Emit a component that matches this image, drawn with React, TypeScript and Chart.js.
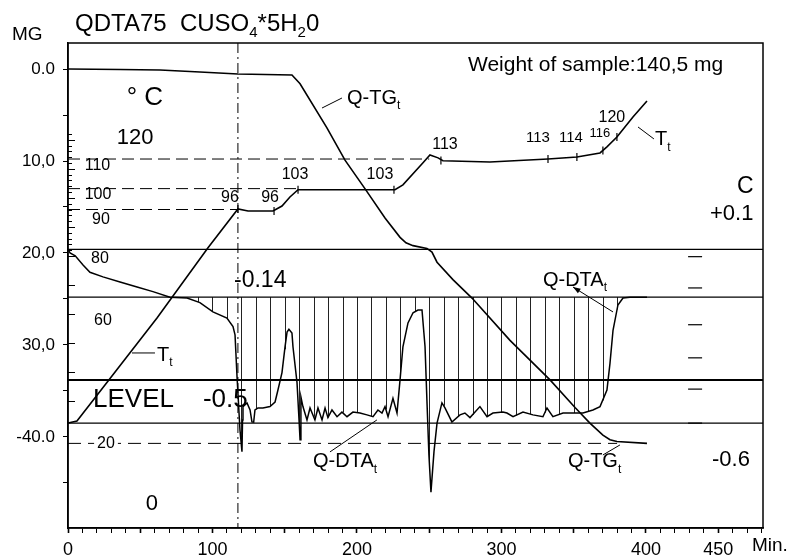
import React, { useEffect, useRef } from 'react';
import { Chart, registerables } from 'chart.js';

Chart.register(...registerables);

const FONT = '"Liberation Sans", Arial, Helvetica, sans-serif';

// ---------- axis ranges ----------
const X_MIN = 0;
const X_MAX = 481;
const Y_MIN = -2.83;
const Y_MAX = 49.9;
const T_MIN = -13.8;
const T_MAX = 153.4;

// ---------- tick labels ----------
const X_TICK_LABELS = [0, 100, 200, 300, 400, 450];
const Y_TICK_VALUES = [0, 5, 10, 15, 20, 25, 30, 35, 40, 45];
const Y_LABELED = [0, 10, 20, 30, 40];
const Y_TICK_LABELS = ['0.0', '10,0', '20,0', '30,0', '-40.0'];

// ---------- Q-TG (mass loss, mg) ----------
const TG_TIME = [0, 36, 63.7, 91.3, 117.6, 155, 160.6, 179.2, 191.7, 205.5, 219.4, 229.8, 233.9, 238.8, 248.4, 251.9, 255.4, 266.4, 279.6, 305.9, 333.6, 350.9, 361.2, 370.2, 375.1, 379.9, 400.7];
const TG_MASS = [0, 0.05, 0.1, 0.33, 0.54, 0.65, 1.6, 6.4, 9.9, 13.0, 16.2, 18.3, 18.9, 19.2, 19.5, 19.9, 21.0, 22.9, 24.9, 29.5, 33.8, 36.8, 38.5, 39.8, 40.3, 40.5, 40.7];

// ---------- T (temperature, °C) ----------
const T_TIME = [0, 6.2, 31.1, 61.6, 96.9, 117.6, 124.6, 141.9, 148.1, 153.6, 159.2, 226.3, 231.8, 245.7, 250.5, 256.1, 259.5, 292.0, 332.2, 352.2, 368.2, 373.0, 379.9, 391.0, 400.7];
const T_TEMP = [22.4, 23.1, 39.0, 58.6, 82.8, 96.2, 95.5, 95.5, 97.2, 100.3, 102.8, 102.8, 104.5, 112.1, 114.8, 113.8, 112.8, 112.4, 113.4, 114.1, 115.5, 117.6, 121.0, 127.9, 133.4];

// marked temperatures on the T curve
const T_MARK_TIME = [117.6, 142.6, 159.2, 225.6, 258.1, 332.2, 352.2, 370.2, 379.9];
const T_MARK_TEMP = [96.2, 95.5, 102.8, 102.8, 112.9, 113.4, 114.1, 116.3, 121.0];
const T_MARK_LABELS = ['96', '96', '103', '103', '113', '113', '114', '116', '120'];

// ---------- Q-DTA (plotted on the mg scale) ----------
const DTA_TIME = [0, 1.4, 5.0, 10.4, 15.2, 24.2, 36.0, 47.8, 58.8, 70.6, 82.4, 91.3, 100.3, 110.0, 114.2, 115.6, 117.0, 119.0, 120.4, 120.8, 121.1, 123.9, 126.0, 127.3, 128.5, 129.4, 131.5, 134.9, 139.8, 143.3, 145.3, 148.1, 150.2, 151.6, 152.9, 155.0, 155.7, 158.5, 159.9, 160.6, 161.2, 162.6, 165.4, 167.5, 170.9, 173.0, 175.8, 177.9, 179.9, 182.7, 186.2, 189.6, 193.1, 197.2, 202.1, 206.9, 211.1, 214.5, 217.3, 219.4, 221.5, 224.9, 227.7, 229.8, 231.8, 235.3, 238.8, 242.2, 245.0, 247.1, 248.4, 249.8, 251.2, 253.3, 255.4, 258.8, 260.9, 265.7, 271.3, 274.7, 278.2, 285.1, 290.0, 294.1, 301.0, 303.8, 308.0, 314.9, 321.8, 328.7, 331.5, 335.6, 342.6, 349.5, 356.4, 363.3, 368.2, 373.0, 375.1, 377.2, 380.6, 384.1, 388.9, 395.8, 400.7];
const DTA_SIGNAL = [19.6, 20.0, 20.3, 21.3, 22.1, 22.6, 23.15, 23.7, 24.2, 24.8, 24.9, 25.4, 26.4, 27.07, 28.0, 28.9, 33.5, 39.2, 41.6, 38.15, 36.7, 36.3, 37.07, 38.37, 38.4, 37.07, 36.85, 36.85, 36.7, 36.2, 34.9, 33.0, 30.2, 28.6, 28.3, 28.7, 30.2, 34.1, 38.15, 40.3, 35.65, 36.7, 38.15, 36.85, 38.15, 36.85, 38.15, 36.85, 37.9, 37.07, 37.8, 37.3, 37.8, 37.3, 37.4, 37.6, 37.8, 37.07, 37.4, 36.7, 37.8, 35.8, 37.4, 33.8, 30.2, 27.6, 26.5, 26.2, 26.2, 30.2, 36.0, 42.0, 46.0, 41.6, 38.5, 36.3, 36.85, 38.37, 37.6, 37.4, 37.9, 36.7, 37.8, 37.4, 37.3, 37.4, 37.8, 37.3, 37.6, 37.8, 36.85, 37.8, 37.4, 37.4, 37.4, 37.07, 36.7, 34.9, 32.0, 28.4, 25.65, 24.9, 24.8, 24.8, 24.8];
const DTA_BASE = 24.8;
const HATCH_TIMES = [90, 100, 110, 120, 130, 140, 150, 160, 170, 180, 190, 200, 210, 220, 230, 240, 250, 260, 270, 280, 290, 300, 310, 320, 330, 340, 350, 360, 370, 380];

// ---------- reference lines ----------
const REF_LEVELS = [19.6, 24.8, 33.8, 38.5];
const LEVEL_LINE = 33.8;
const TG_FINAL_LEVEL = 40.7;
const TG_FINAL_END = 380;
const PLATEAU_TEMPS = [96.0, 103.2, 113.4];
const PLATEAU_END_TIMES = [117.6, 159.2, 250.0];
const MARKER_TIME = 117.6;
const RIGHT_MARK_TIME = 434;
const RIGHT_MARKS = [20.4, 23.8, 27.8, 31.4, 34.8, 38.5];
const T_SIDE_TICKS = [30, 40, 50, 60, 70, 80, 82, 84, 86, 88, 90, 92, 94, 96, 98, 100, 102, 104, 106, 108, 110, 112, 114, 116, 118, 120, 122];

// ---------- annotation layout (style/position config) ----------
type Part = [string, boolean];
const TEXT_NOTES: { t: number; v: number; parts: Part[]; size: number; align?: string; bg?: boolean }[] = [
  { t: 276.8, v: -0.43, parts: [['Weight of sample:140,5 mg', false]], size: 21 },
  { t: 40.6, v: 3.1, parts: [['° C', false]], size: 26 },
  { t: 46.4, v: 7.5, parts: [['120', false]], size: 22, align: 'center' },
  { t: 20.4, v: 10.54, parts: [['110', false]], size: 16, align: 'center' },
  { t: 20.8, v: 13.7, parts: [['100', false]], size: 16, align: 'center' },
  { t: 22.8, v: 16.4, parts: [['90', false]], size: 16, align: 'center' },
  { t: 22.1, v: 20.65, parts: [['80', false]], size: 16, align: 'center' },
  { t: 24.2, v: 27.3, parts: [['60', false]], size: 16, align: 'center' },
  { t: 26.3, v: 40.76, parts: [['20', false]], size: 16, align: 'center', bg: true },
  { t: 58.1, v: 47.3, parts: [['0', false]], size: 22, align: 'center' },
  { t: 17.3, v: 36.0, parts: [['LEVEL', false]], size: 26 },
  { t: 93.4, v: 36.0, parts: [['-0.5', false]], size: 26 },
  { t: 114.9, v: 23.0, parts: [['-0.14', false]], size: 23 },
  { t: 463.0, v: 12.8, parts: [['C', false]], size: 23 },
  { t: 444.3, v: 15.8, parts: [['+0.1', false]], size: 22 },
  { t: 445.7, v: 42.5, parts: [['-0.6', false]], size: 22 },
  { t: 193.1, v: 3.15, parts: [['Q-TG', false], ['t', true]], size: 20 },
  { t: 346.0, v: 42.7, parts: [['Q-TG', false], ['t', true]], size: 20 },
  { t: 169.6, v: 42.7, parts: [['Q-DTA', false], ['t', true]], size: 20 },
  { t: 328.7, v: 23.0, parts: [['Q-DTA', false], ['t', true]], size: 20 },
  { t: 61.6, v: 31.1, parts: [['T', false], ['t', true]], size: 20 },
  { t: 406.2, v: 7.7, parts: [['T', false], ['t', true]], size: 20 },
];
const LEADERS: { a: [number, number]; b: [number, number]; arrow?: boolean }[] = [
  { a: [175.8, 4.24], b: [189.6, 3.15] },
  { a: [370.2, 41.96], b: [382.0, 40.87] },
  { a: [181.3, 41.63], b: [213.8, 38.15] },
  { a: [377.2, 26.41], b: [349.5, 23.7], arrow: true },
  { a: [44.3, 30.87], b: [60.2, 30.87] },
  { a: [394.5, 6.3], b: [405.5, 7.6] },
];
const MARK_LABEL_OFFSETS = [[-8, -11], [-4, -13], [-3, -15], [-14, -15], [4, -16], [-10, -21], [-6, -19], [-3, -17], [-5, -19]];
const MARK_LABEL_SIZES = [16, 16, 16, 16, 16, 15, 15, 13, 16];
const TITLE_PARTS: Part[] = [['QDTA75  CUSO', false], ['4', true], ['*5H', false], ['2', true], ['0', false]];

function drawRich(ctx: CanvasRenderingContext2D, x: number, y: number, parts: Part[], size: number, align = 'left', bg = false) {
  const subSize = Math.round(size * 0.62);
  const widths = parts.map(([s, sub]) => {
    ctx.font = `${sub ? subSize : size}px ${FONT}`;
    return ctx.measureText(s).width;
  });
  const total = widths.reduce((a, b) => a + b, 0);
  let cx = align === 'center' ? x - total / 2 : align === 'right' ? x - total : x;
  if (bg) {
    ctx.fillStyle = '#fff';
    ctx.fillRect(cx - 3, y - size * 0.45, total + 6, size * 0.9);
  }
  ctx.fillStyle = '#000';
  ctx.textAlign = 'left';
  ctx.textBaseline = 'middle';
  parts.forEach(([s, sub], i) => {
    ctx.font = `${sub ? subSize : size}px ${FONT}`;
    ctx.fillText(s, cx, sub ? y + size * 0.38 : y);
    cx += widths[i];
  });
}

const zip = (xs: number[], ys: number[]) => xs.map((x, i) => ({ x, y: ys[i] }));

const hatchPlugin = {
  id: 'dtaHatch',
  beforeDatasetsDraw(chart: any) {
    const idx = chart.data.datasets.findIndex((d: any) => d.label === 'Q-DTA');
    const pts = chart.getDatasetMeta(idx).data;
    const xs = chart.scales.x;
    const ys = chart.scales.y;
    const ca = chart.chartArea;
    const yb = ys.getPixelForValue(DTA_BASE);
    const ctx = chart.ctx as CanvasRenderingContext2D;
    ctx.save();
    ctx.beginPath();
    ctx.rect(ca.left, ca.top, ca.right - ca.left, ca.bottom - ca.top);
    ctx.clip();
    ctx.strokeStyle = '#222';
    ctx.lineWidth = 1;
    ctx.beginPath();
    HATCH_TIMES.forEach((t) => {
      const px = xs.getPixelForValue(t);
      for (let i = 0; i < pts.length - 1; i++) {
        const p0 = pts[i], p1 = pts[i + 1];
        if (p0.x <= px && p1.x >= px) {
          const f = p1.x === p0.x ? 0 : (px - p0.x) / (p1.x - p0.x);
          const py = p0.y + f * (p1.y - p0.y);
          ctx.moveTo(Math.round(px) + 0.5, yb);
          ctx.lineTo(Math.round(px) + 0.5, py);
          break;
        }
      }
    });
    ctx.stroke();
    ctx.restore();
  },
};

const notesPlugin = {
  id: 'notes',
  afterDraw(chart: any) {
    const ctx = chart.ctx as CanvasRenderingContext2D;
    const ca = chart.chartArea;
    const xs = chart.scales.x;
    const ys = chart.scales.y;
    const yT = chart.scales.yT;
    ctx.save();
    // frame
    ctx.strokeStyle = '#000';
    ctx.lineWidth = 1.5;
    ctx.strokeRect(ca.left, ca.top, ca.right - ca.left, ca.bottom - ca.top);
    // temperature side ticks (inside left edge)
    ctx.lineWidth = 1;
    ctx.beginPath();
    T_SIDE_TICKS.forEach((T) => {
      const py = Math.round(yT.getPixelForValue(T)) + 0.5;
      const len = T % 10 === 0 ? 7 : 4;
      ctx.moveTo(ca.left, py);
      ctx.lineTo(ca.left + len, py);
    });
    ctx.stroke();
    // leader lines
    ctx.lineWidth = 1;
    LEADERS.forEach((l) => {
      const ax = xs.getPixelForValue(l.a[0]), ay = ys.getPixelForValue(l.a[1]);
      const bx = xs.getPixelForValue(l.b[0]), by = ys.getPixelForValue(l.b[1]);
      ctx.beginPath();
      ctx.moveTo(ax, ay);
      ctx.lineTo(bx, by);
      ctx.stroke();
      if (l.arrow) {
        const ang = Math.atan2(by - ay, bx - ax);
        ctx.beginPath();
        ctx.moveTo(bx, by);
        ctx.lineTo(bx - 8 * Math.cos(ang - 0.35), by - 8 * Math.sin(ang - 0.35));
        ctx.lineTo(bx - 8 * Math.cos(ang + 0.35), by - 8 * Math.sin(ang + 0.35));
        ctx.closePath();
        ctx.fillStyle = '#000';
        ctx.fill();
      }
    });
    // text notes
    TEXT_NOTES.forEach((n) => {
      drawRich(ctx, xs.getPixelForValue(n.t), ys.getPixelForValue(n.v), n.parts, n.size, n.align || 'left', !!n.bg);
    });
    // temperature mark labels
    T_MARK_LABELS.forEach((s, i) => {
      const x = xs.getPixelForValue(T_MARK_TIME[i]) + MARK_LABEL_OFFSETS[i][0];
      const y = yT.getPixelForValue(T_MARK_TEMP[i]) + MARK_LABEL_OFFSETS[i][1];
      drawRich(ctx, x, y, [[s, false]], MARK_LABEL_SIZES[i], 'center');
    });
    // outer texts
    drawRich(ctx, ca.left + 7, ca.top - 19, TITLE_PARTS, 24, 'left');
    drawRich(ctx, ca.left - 56, ca.top - 8, [['MG', false]], 19, 'left');
    drawRich(ctx, ca.right - 11, ca.bottom + 18, [['Min.', false]], 19, 'left');
    ctx.restore();
  },
};

const lineDs = (label: string, data: any[], axis: string, extra: any = {}) => ({
  label,
  data,
  yAxisID: axis,
  borderColor: '#000',
  backgroundColor: '#000',
  borderWidth: 1.6,
  pointRadius: 0,
  tension: 0,
  fill: false,
  ...extra,
});

export default function App() {
  const ref = useRef<HTMLCanvasElement>(null);

  useEffect(() => {
    const canvas = ref.current;
    if (!canvas) return;

    const datasets: any[] = [
      lineDs('Q-TG', zip(TG_TIME, TG_MASS), 'y'),
      lineDs('Q-DTA', zip(DTA_TIME, DTA_SIGNAL), 'y', { borderWidth: 1.5 }),
      lineDs('T', zip(T_TIME, T_TEMP), 'yT'),
      lineDs('T marks', zip(T_MARK_TIME, T_MARK_TEMP), 'yT', {
        showLine: false, pointStyle: 'line', pointRotation: 90, pointRadius: 4, pointBorderWidth: 1.2, pointBorderColor: '#000',
      }),
      ...REF_LEVELS.map((lv) =>
        lineDs('ref ' + lv, [{ x: X_MIN, y: lv }, { x: X_MAX, y: lv }], 'y', { borderWidth: lv === LEVEL_LINE ? 2 : 1.3 })
      ),
      lineDs('TG final', [{ x: X_MIN, y: TG_FINAL_LEVEL }, { x: TG_FINAL_END, y: TG_FINAL_LEVEL }], 'y', { borderWidth: 1, borderDash: [13, 7] }),
      ...PLATEAU_TEMPS.map((T, i) =>
        lineDs('plateau ' + T, [{ x: X_MIN, y: T }, { x: PLATEAU_END_TIMES[i], y: T }], 'yT', { borderWidth: 1, borderDash: [12, 6] })
      ),
      lineDs('marker', [{ x: MARKER_TIME, y: Y_MIN }, { x: MARKER_TIME, y: Y_MAX }], 'y', { borderWidth: 1, borderDash: [10, 4, 2, 4] }),
      lineDs('right marks', RIGHT_MARKS.map((v) => ({ x: RIGHT_MARK_TIME, y: v })), 'y', {
        showLine: false, pointStyle: 'line', pointRadius: 7, pointBorderWidth: 1.2, pointBorderColor: '#000',
      }),
    ];

    const chart = new Chart(canvas, {
      type: 'line',
      data: { datasets },
      options: {
        responsive: false,
        animation: false,
        devicePixelRatio: 1,
        events: [],
        layout: { padding: { top: 43, right: 27, left: 0, bottom: 0 } },
        plugins: { legend: { display: false }, tooltip: { enabled: false }, title: { display: false } },
        scales: {
          x: {
            type: 'linear',
            min: X_MIN,
            max: X_MAX,
            afterFit: (s: any) => { s.height = 32; },
            afterBuildTicks: (s: any) => {
              const t: any[] = [];
              for (let v = 0; v <= 480; v += 10) t.push({ value: v });
              s.ticks = t;
            },
            ticks: {
              autoSkip: false,
              maxRotation: 0,
              minRotation: 0,
              padding: 6,
              color: '#000',
              font: { family: FONT, size: 18 },
              callback: (v: any) => (X_TICK_LABELS.includes(Number(v)) ? String(v) : ''),
            },
            grid: {
              drawOnChartArea: false,
              drawTicks: true,
              tickLength: 5,
              color: '#000',
              tickWidth: (c: any) => (c.tick && c.tick.value % 50 === 0 ? 1.6 : 1),
            },
            border: { display: true, color: '#000', width: 1.5 },
          },
          y: {
            type: 'linear',
            position: 'left',
            reverse: true,
            min: Y_MIN,
            max: Y_MAX,
            afterFit: (s: any) => { s.width = 68; },
            afterBuildTicks: (s: any) => { s.ticks = Y_TICK_VALUES.map((value) => ({ value })); },
            ticks: {
              padding: 8,
              color: '#000',
              font: { family: FONT, size: 17 },
              callback: (v: any) => {
                const i = Y_LABELED.indexOf(Number(v));
                return i >= 0 ? Y_TICK_LABELS[i] : '';
              },
            },
            grid: { drawOnChartArea: false, drawTicks: true, tickLength: 5, color: '#000' },
            border: { display: true, color: '#000', width: 1.5 },
          },
          yT: { type: 'linear', display: false, min: T_MIN, max: T_MAX },
        },
      } as any,
      plugins: [hatchPlugin, notesPlugin],
    });
    return () => chart.destroy();
  }, []);

  return (
    <div style={{ position: 'absolute', left: 0, top: 0, width: 790, height: 560, background: '#fff' }}>
      <canvas ref={ref} width={790} height={560} style={{ display: 'block', width: 790, height: 560 }} />
    </div>
  );
}
